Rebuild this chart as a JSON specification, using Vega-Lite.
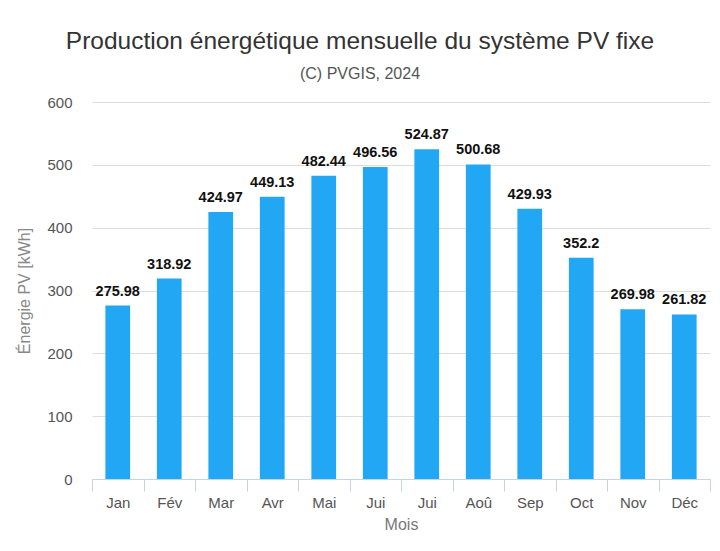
{
  "$schema": "https://vega.github.io/schema/vega-lite/v6.json",
  "autosize": "none",
  "width": 618,
  "height": 377,
  "padding": {"left": 92, "top": 102, "right": 10, "bottom": 72},
  "background": "white",
  "title": {
    "text": "Production énergétique mensuelle du système PV fixe",
    "subtitle": "(C) PVGIS, 2024",
    "font": "Liberation Sans",
    "subtitleFont": "Liberation Sans",
    "fontSize": 24.5,
    "fontWeight": "normal",
    "color": "#333333",
    "subtitleFontSize": 16,
    "subtitleColor": "#555555",
    "subtitlePadding": 12,
    "anchor": "middle",
    "dx": -41,
    "offset": 12
  },
  "config": {
    "view": {"stroke": null},
    "font": "Liberation Sans"
  },
  "data": {
    "values": [
      {"m": 1, "mois": "Jan", "kwh": 275.98},
      {"m": 2, "mois": "Fév", "kwh": 318.92},
      {"m": 3, "mois": "Mar", "kwh": 424.97},
      {"m": 4, "mois": "Avr", "kwh": 449.13},
      {"m": 5, "mois": "Mai", "kwh": 482.44},
      {"m": 6, "mois": "Jui", "kwh": 496.56},
      {"m": 7, "mois": "Jui", "kwh": 524.87},
      {"m": 8, "mois": "Aoû", "kwh": 500.68},
      {"m": 9, "mois": "Sep", "kwh": 429.93},
      {"m": 10, "mois": "Oct", "kwh": 352.2},
      {"m": 11, "mois": "Nov", "kwh": 269.98},
      {"m": 12, "mois": "Déc", "kwh": 261.82}
    ]
  },
  "encoding": {
    "x": {
      "field": "m",
      "type": "ordinal",
      "title": "Mois",
      "scale": {"paddingInner": 0, "paddingOuter": 0},
      "axis": {
        "labelExpr": "['Jan','Fév','Mar','Avr','Mai','Jui','Jui','Aoû','Sep','Oct','Nov','Déc'][datum.value - 1]",
        "labelAngle": 0,
        "labelFontSize": 15,
        "labelColor": "#555555",
        "labelPadding": 4,
        "tickBand": "extent",
        "tickSize": 12,
        "tickColor": "#c5d5e2",
        "domainColor": "#c5d5e2",
        "titleFontSize": 16,
        "titleFontWeight": "normal",
        "titleColor": "#777777",
        "titlePadding": 6
      }
    },
    "y": {
      "field": "kwh",
      "type": "quantitative",
      "title": "Énergie PV [kWh]",
      "scale": {"domain": [0, 600]},
      "axis": {
        "values": [0, 100, 200, 300, 400, 500, 600],
        "domain": false,
        "ticks": false,
        "labelPadding": 20,
        "labelFontSize": 15,
        "labelColor": "#555555",
        "gridColor": "#dddddd",
        "titleFontSize": 16,
        "titleFontWeight": "normal",
        "titleColor": "#888888",
        "titlePadding": 14
      }
    }
  },
  "layer": [
    {
      "mark": {"type": "bar", "color": "#22a7f5", "width": {"band": 0.48}}
    },
    {
      "mark": {"type": "text", "baseline": "bottom", "dy": -7, "fontSize": 14.5, "fontWeight": "bold", "color": "#111111"},
      "encoding": {
        "text": {"field": "kwh", "type": "quantitative"}
      }
    }
  ]
}
